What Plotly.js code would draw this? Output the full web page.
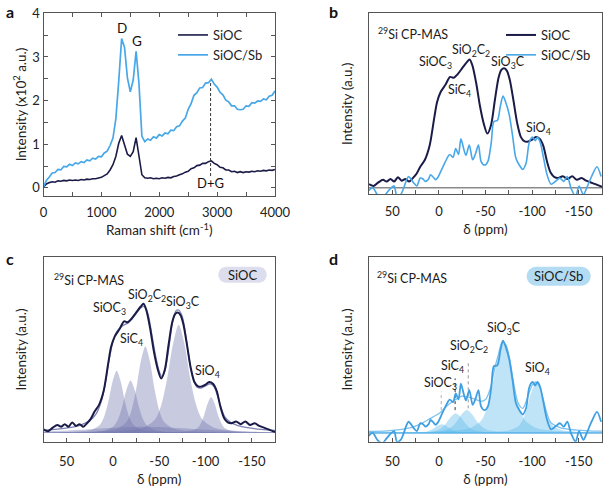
<!DOCTYPE html>
<html><head><meta charset="utf-8">
<script src="https://cdn.plot.ly/plotly-3.0.1.min.js"></script>
<style>html,body{margin:0;padding:0;background:#fff}#chart{width:604px;height:489px}</style>
</head><body><div id="chart"></div>
<script>
// ---------- Panel a: Raman ----------
const ramanX = [0,50,100,150,200,250,300,350,400,450,500,550,600,650,700,750,800,850,900,950,1000,1050,1100,1150,1200,1250,1300,1350,1400,1450,1500,1550,1600,1650,1700,1750,1800,1850,1900,1950,2000,2050,2100,2150,2200,2250,2300,2350,2400,2450,2500,2550,2600,2650,2700,2750,2800,2850,2900,2950,3000,3050,3100,3150,3200,3250,3300,3350,3400,3450,3500,3550,3600,3650,3700,3750,3800,3850,3900,3950,4000];
const siocRaman = [0.02,0.09,0.12,0.14,0.13,0.16,0.15,0.17,0.16,0.18,0.17,0.18,0.17,0.19,0.18,0.20,0.19,0.21,0.21,0.23,0.24,0.28,0.32,0.41,0.53,0.72,1.02,1.20,0.98,0.77,0.72,0.83,1.15,0.72,0.30,0.23,0.22,0.23,0.21,0.22,0.21,0.23,0.22,0.24,0.23,0.26,0.27,0.30,0.32,0.36,0.38,0.44,0.46,0.51,0.52,0.56,0.56,0.60,0.62,0.56,0.53,0.47,0.46,0.41,0.41,0.37,0.38,0.35,0.37,0.35,0.37,0.36,0.38,0.37,0.39,0.38,0.40,0.39,0.41,0.40,0.42];
const siocSbRaman = [0.02,0.17,0.25,0.34,0.35,0.42,0.41,0.49,0.48,0.54,0.51,0.57,0.55,0.60,0.58,0.64,0.62,0.68,0.66,0.72,0.71,0.80,0.84,0.97,1.14,1.58,2.45,3.42,3.22,2.52,2.20,2.47,3.13,2.38,1.18,1.06,1.12,1.09,1.17,1.14,1.22,1.19,1.26,1.24,1.32,1.31,1.40,1.42,1.53,1.60,1.80,1.93,2.12,2.18,2.29,2.30,2.40,2.41,2.49,2.38,2.31,2.19,2.13,2.01,1.97,1.88,1.88,1.80,1.79,1.80,1.88,1.87,1.95,1.94,1.99,1.98,2.04,2.02,2.10,2.12,2.22];
const dgShift = [2887, 2887];
const dgGuide = [0.27, 2.45];
const ramanTicks = [0,1000,2000,3000,4000];

// ---------- 29Si CP-MAS spectra (panels b, c, d) ----------
const siocPpm = [75,70,65,60,56,52,48,44,40,36,32,28,24,20,15,10,5,2,-2,-7,-12,-16,-20,-25,-30,-33,-36,-40,-44,-48,-52,-56,-60,-64,-67,-70,-73,-76,-80,-84,-88,-92,-96,-100,-104,-108,-112,-116,-120,-124,-128,-133,-138,-143,-148,-153,-158,-163,-168,-175];
const siocInt = [0.02,0.01,0.03,0.045,0.035,0.05,0.035,0.06,0.04,0.05,0.035,0.055,0.08,0.12,0.16,0.24,0.40,0.49,0.55,0.59,0.635,0.63,0.65,0.685,0.72,0.735,0.70,0.60,0.47,0.37,0.31,0.36,0.50,0.63,0.675,0.685,0.67,0.62,0.50,0.37,0.29,0.265,0.265,0.275,0.29,0.28,0.24,0.15,0.085,0.06,0.055,0.065,0.05,0.065,0.045,0.055,0.04,0.03,0.02,0.005];
const sbPpm = [76,71,66,61,56,51,48,45,41,38,35,32.6,30,27,23.6,20,17,14.5,11,9,6,3.6,1,-2,-7,-11.6,-15.2,-18,-21,-23.6,-26.5,-29,-32.6,-36.2,-39,-42.4,-45.3,-49,-52.5,-56.2,-59,-62.7,-66,-68.8,-71.7,-75.4,-79,-82.6,-86.2,-90,-93.5,-97,-100.4,-103.3,-105.8,-108.7,-112.3,-116,-120.3,-125,-129.7,-134,-137.7,-142,-146.7,-150.4,-155,-158.7,-163.8,-169.6,-174];
const sbInt = [-0.02,0.0,-0.04,-0.06,-0.03,0.0,0.01,-0.05,-0.04,-0.005,0.04,0.064,0.05,0.027,0.01,0.055,0.05,0.036,0.05,0.074,0.06,0.046,0.06,0.093,0.15,0.19,0.175,0.225,0.19,0.28,0.225,0.185,0.244,0.16,0.19,0.244,0.15,0.13,0.15,0.26,0.38,0.385,0.47,0.525,0.49,0.42,0.30,0.17,0.13,0.105,0.14,0.26,0.29,0.27,0.29,0.26,0.17,0.075,0.02,0.036,0.055,0.036,0.064,-0.006,-0.05,0.01,-0.04,0.0,0.064,0.12,0.064];
const ppmTicks = [50,0,-50,-100,-150];
const ppmTickText = ['50','0','-50','-100','-150'];

// ---------- Panel c: SiOC deconvolution ----------
const cPeak1X = [-184,-94,-58,-40,-31,-22,-17.5,-13,-8.5,-4,0.5,5,9.5,14,23,32,50,86,176];
const cPeak1Y = [0.0004,0.0018,0.0048,0.0103,0.018,0.0464,0.0917,0.177,0.290,0.354,0.290,0.177,0.0917,0.0464,0.018,0.0103,0.0048,0.0018,0.0004];
const cPeak2X = [-199,-109,-73,-55,-46,-37,-32.5,-28,-23.5,-19,-14.5,-10,-5.5,-1,8,17,35,71,161];
const cPeak2Y = [0.0004,0.0015,0.004,0.0086,0.0152,0.039,0.0772,0.149,0.244,0.298,0.244,0.149,0.0772,0.039,0.0152,0.0086,0.004,0.0015,0.0004];
const cPeak3X = [-235,-135,-95,-75,-65,-55,-50,-45,-40,-35,-30,-25,-20,-15,-5,5,25,65,165];
const cPeak3Y = [0.0006,0.0025,0.0067,0.0143,0.0252,0.0647,0.128,0.247,0.405,0.494,0.405,0.247,0.128,0.0647,0.0252,0.0143,0.0067,0.0025,0.0006];
const cPeak4X = [-321,-196,-146,-121,-108.5,-96,-89.8,-83.5,-77.3,-71,-64.8,-58.5,-52.3,-46,-33.5,-21,4,54,179];
const cPeak4Y = [0.0007,0.0031,0.0083,0.0179,0.0314,0.0807,0.16,0.308,0.505,0.616,0.505,0.308,0.16,0.0807,0.0314,0.0179,0.0083,0.0031,0.0007];
const cPeak5X = [-256,-181,-151,-136,-128.5,-121,-117.3,-113.5,-109.8,-106,-102.3,-98.5,-94.8,-91,-83.5,-76,-61,-31,44];
const cPeak5Y = [0.0002,0.001,0.0028,0.0059,0.0104,0.0267,0.0528,0.102,0.167,0.204,0.167,0.102,0.0528,0.0267,0.0104,0.0059,0.0028,0.001,0.0002];
const cBroadX = [-175,-140,-110,-80,-60,-33,-6,14,44,75];
const cBroadY = [0.003,0.008,0.015,0.025,0.031,0.035,0.031,0.025,0.015,0.008];
const cFitX = [75,60,45,35,25,18,12,8,4,0,-4,-8,-12,-16,-20,-25,-30,-34,-38,-42,-46,-50,-53,-56,-60,-64,-68,-71,-75,-79,-83,-87,-91,-95,-100,-105,-109,-113,-117,-121,-127,-135,-145,-160,-175];
const cFitY = [0.015,0.022,0.032,0.045,0.07,0.11,0.19,0.29,0.42,0.52,0.575,0.60,0.615,0.625,0.645,0.68,0.712,0.72,0.675,0.56,0.44,0.35,0.32,0.35,0.47,0.62,0.695,0.70,0.66,0.54,0.40,0.30,0.26,0.255,0.268,0.28,0.265,0.21,0.14,0.09,0.06,0.042,0.03,0.02,0.014];

// ---------- Panel d: SiOC/Sb deconvolution ----------
const dPeak1X = [-183,-93,-57,-39,-30,-21,-16.5,-12,-7.5,-3,1.5,6,10.5,15,24,33,51,87,177];
const dPeak1Y = [0.0001,0.0003,0.0007,0.0015,0.0026,0.0066,0.013,0.025,0.041,0.05,0.041,0.025,0.013,0.0066,0.0026,0.0015,0.0007,0.0003,0.0001];
const dPeak2X = [-218,-118,-78,-58,-48,-38,-33,-28,-23,-18,-13,-8,-3,2,12,22,42,82,182];
const dPeak2Y = [0.0001,0.0006,0.0015,0.0032,0.0057,0.0147,0.029,0.056,0.0918,0.112,0.0918,0.056,0.029,0.0147,0.0057,0.0032,0.0015,0.0006,0.0001];
const dPeak3X = [-250,-140,-96,-74,-63,-52,-46.5,-41,-35.5,-30,-24.5,-19,-13.5,-8,3,14,36,80,190];
const dPeak3Y = [0.0002,0.0007,0.0018,0.0038,0.0067,0.0172,0.0339,0.0655,0.107,0.131,0.107,0.0655,0.0339,0.0172,0.0067,0.0038,0.0018,0.0007,0.0002];
const dPeak4X = [-309,-189,-141,-117,-105,-93,-87,-81,-75,-69,-63,-57,-51,-45,-33,-21,3,51,171];
const dPeak4Y = [0.0006,0.0026,0.007,0.0149,0.0263,0.0675,0.133,0.258,0.422,0.515,0.422,0.258,0.133,0.0675,0.0263,0.0149,0.007,0.0026,0.0006];
const dPeak5X = [-294,-199,-161,-142,-132.5,-123,-118.3,-113.5,-108.8,-104,-99.3,-94.5,-89.8,-85,-75.5,-66,-47,-9,86];
const dPeak5Y = [0.0003,0.0014,0.0038,0.0083,0.0145,0.0373,0.0738,0.1425,0.234,0.285,0.234,0.1425,0.0738,0.0373,0.0145,0.0083,0.0038,0.0014,0.0003];
const dFitX = [75,55,40,30,20,10,0,-10,-18,-25,-30,-35,-40,-45,-50,-55,-60,-64,-68,-72,-76,-80,-85,-90,-95,-100,-104,-108,-112,-116,-120,-130,-140,-160,-175];
const dFitY = [0.008,0.012,0.02,0.03,0.05,0.08,0.11,0.16,0.19,0.21,0.205,0.20,0.19,0.18,0.19,0.25,0.37,0.45,0.52,0.50,0.42,0.29,0.17,0.14,0.20,0.27,0.29,0.26,0.19,0.11,0.06,0.03,0.02,0.012,0.01];
const dLeaderPpm = [-2.5, -17.4, -31.5];
const dLeaderLow = [0.13, 0.13, 0.14];
const dLeaderHigh = [0.235, 0.31, 0.40];

// ---------- styling ----------
const W = 604, H = 489;
const dx = (l, r) => [l / W, r / W];
const dy = (t, b) => [1 - b / H, 1 - t / H];
const NAVY = '#1b1b48', SKY = '#47a7e8', AXC = '#555';
const cFill = 'rgba(110,115,170,0.38)', dFill = 'rgba(90,185,235,0.39)';

const traces = [];
// a
traces.push({x: ramanX, y: siocRaman, xaxis: 'x', yaxis: 'y', mode: 'lines', name: 'SiOC', line: {color: NAVY, width: 1.6}, legend: 'legend'});
traces.push({x: ramanX, y: siocSbRaman, xaxis: 'x', yaxis: 'y', mode: 'lines', name: 'SiOC/Sb', line: {color: SKY, width: 1.7}, legend: 'legend'});
traces.push({x: dgShift, y: dgGuide, xaxis: 'x', yaxis: 'y', mode: 'lines', showlegend: false, line: {color: '#333', width: 1, dash: '3px,2px'}});
// b
traces.push({x: siocPpm, y: siocInt, xaxis: 'x2', yaxis: 'y2', mode: 'lines', name: 'SiOC', line: {color: NAVY, width: 2, shape: 'spline', smoothing: 0.8}, legend: 'legend2'});
traces.push({x: sbPpm, y: sbInt, xaxis: 'x2', yaxis: 'y2', mode: 'lines', name: 'SiOC/Sb', line: {color: SKY, width: 1.6, shape: 'spline', smoothing: 0.8}, legend: 'legend2'});
// c
[[cBroadX, cBroadY], [cPeak1X, cPeak1Y], [cPeak2X, cPeak2Y], [cPeak3X, cPeak3Y], [cPeak4X, cPeak4Y], [cPeak5X, cPeak5Y]].forEach(([px, py]) => {
  traces.push({x: px, y: py, xaxis: 'x3', yaxis: 'y3', mode: 'lines', fill: 'tozeroy', fillcolor: cFill, line: {width: 0, shape: 'spline', smoothing: 0.8}, showlegend: false, hoverinfo: 'skip'});
});
traces.push({x: cFitX, y: cFitY, xaxis: 'x3', yaxis: 'y3', mode: 'lines', line: {color: '#7e82b4', width: 1.3, shape: 'spline', smoothing: 0.8}, showlegend: false});
traces.push({x: siocPpm, y: siocInt, xaxis: 'x3', yaxis: 'y3', mode: 'lines', line: {color: NAVY, width: 2, shape: 'spline', smoothing: 0.8}, showlegend: false});
// d
[[dPeak1X, dPeak1Y], [dPeak2X, dPeak2Y], [dPeak3X, dPeak3Y], [dPeak4X, dPeak4Y], [dPeak5X, dPeak5Y]].forEach(([px, py]) => {
  traces.push({x: px, y: py, xaxis: 'x4', yaxis: 'y4', mode: 'lines', fill: 'tozeroy', fillcolor: dFill, line: {width: 0, shape: 'spline', smoothing: 0.8}, showlegend: false, hoverinfo: 'skip'});
});
const leaderColors = ['#b0b0b0', '#333333', '#999999'];
dLeaderPpm.forEach((p, i) => {
  traces.push({x: [p, p], y: [dLeaderLow[i], dLeaderHigh[i]], xaxis: 'x4', yaxis: 'y4', mode: 'lines', line: {color: leaderColors[i], width: 1, dash: 'dot'}, showlegend: false});
});
traces.push({x: dFitX, y: dFitY, xaxis: 'x4', yaxis: 'y4', mode: 'lines', line: {color: '#7cc2ee', width: 1.3, shape: 'spline', smoothing: 0.8}, showlegend: false});
traces.push({x: sbPpm, y: sbInt, xaxis: 'x4', yaxis: 'y4', mode: 'lines', line: {color: '#3f9fe2', width: 1.8, shape: 'spline', smoothing: 0.8}, showlegend: false});

const tickFont = {size: 13, color: '#222'};
function ppmAxis(dom, anchor, labelGap, titleGap) {
  return {domain: dom, anchor: anchor, range: [75, -175], tickmode: 'array', tickvals: ppmTicks, ticktext: ppmTickText,
    ticks: 'inside', ticklen: 4, tickcolor: AXC, tickfont: tickFont, ticklabelstandoff: labelGap,
    minor: {tickmode: 'linear', tick0: 0, dtick: 25, ticks: 'inside', ticklen: 4, tickcolor: AXC},
    showline: true, mirror: true, linecolor: AXC, linewidth: 1, showgrid: false, zeroline: false,
    title: {text: 'δ (ppm)', font: {size: 13.5, color: '#222'}, standoff: titleGap}};
}
function intAxis(dom, anchor, rng) {
  return {domain: dom, anchor: anchor, range: rng, showticklabels: false, ticks: '', showline: true, mirror: true,
    linecolor: AXC, linewidth: 1, showgrid: false, zeroline: false,
    title: {text: 'Intensity (a.u.)', font: {size: 13.5, color: '#222'}, standoff: 12}};
}

const lbl = (text, x, y, xr, yr, extra) => Object.assign({text: text, x: x, y: y, xref: xr, yref: yr, showarrow: false, xanchor: 'center', yanchor: 'middle', font: {size: 12.5, color: '#1a1a1a'}}, extra || {});
const letterFont = {size: 16, color: '#111'};
const annotations = [
  lbl('<b>a</b>', 4 / W, 1 - 11.7 / H, 'paper', 'paper', {xanchor: 'left', font: letterFont}),
  lbl('<b>b</b>', 327 / W, 1 - 11.7 / H, 'paper', 'paper', {xanchor: 'left', font: letterFont}),
  lbl('<b>c</b>', 4 / W, 1 - 258.3 / H, 'paper', 'paper', {xanchor: 'left', font: letterFont}),
  lbl('<b>d</b>', 327 / W, 1 - 258.3 / H, 'paper', 'paper', {xanchor: 'left', font: letterFont}),
  // a
  lbl('D', 1351, 3.67, 'x', 'y', {font: {size: 13.5, color: '#111'}}),
  lbl('G', 1612, 3.36, 'x', 'y', {font: {size: 13.5, color: '#111'}}),
  lbl('D+G', 2887, 0.11, 'x', 'y', {font: {size: 13, color: '#111'}}),
  // b
  lbl('<sup>29</sup>Si CP-MAS', 68, 0.885, 'x2', 'y2', {xanchor: 'left'}),
  lbl('SiOC<sub>3</sub>', 3.6, 0.72, 'x2', 'y2'),
  lbl('SiC<sub>4</sub>', -21.7, 0.557, 'x2', 'y2'),
  lbl('SiO<sub>2</sub>C<sub>2</sub>', -34.5, 0.784, 'x2', 'y2'),
  lbl('SiO<sub>3</sub>C', -74.3, 0.72, 'x2', 'y2'),
  lbl('SiO<sub>4</sub>', -106.8, 0.34, 'x2', 'y2'),
  // c
  lbl('<sup>29</sup>Si CP-MAS', 66, 0.875, 'x3', 'y3', {xanchor: 'left'}),
  lbl('SiOC<sub>3</sub>', 3.6, 0.71, 'x3', 'y3'),
  lbl('SiC<sub>4</sub>', -20.1, 0.532, 'x3', 'y3'),
  lbl('SiO<sub>2</sub>C<sub>2</sub>', -36.5, 0.785, 'x3', 'y3'),
  lbl('SiO<sub>3</sub>C', -75.9, 0.742, 'x3', 'y3'),
  lbl('SiO<sub>4</sub>', -102.2, 0.348, 'x3', 'y3'),
  lbl('SiOC', 242.5 / W, 1 - 274.7 / H, 'paper', 'paper', {font: {size: 13, color: '#1a1a1a'}}),
  // d
  lbl('<sup>29</sup>Si CP-MAS', 68.8, 0.885, 'x4', 'y4', {xanchor: 'left'}),
  lbl('SiOC<sub>3</sub>', -1.8, 0.28, 'x4', 'y4'),
  lbl('SiC<sub>4</sub>', -14.5, 0.38, 'x4', 'y4'),
  lbl('SiO<sub>2</sub>C<sub>2</sub>', -32.6, 0.49, 'x4', 'y4'),
  lbl('SiO<sub>3</sub>C', -69.6, 0.595, 'x4', 'y4'),
  lbl('SiO<sub>4</sub>', -105.8, 0.368, 'x4', 'y4'),
  lbl('SiOC/Sb', 558.7 / W, 1 - 276 / H, 'paper', 'paper', {font: {size: 13, color: '#1a1a1a'}})
];

function pill(l, r, t, b, color) {
  const x0 = l / W, x1 = r / W, y1 = 1 - t / H, y0 = 1 - b / H, ym = (y0 + y1) / 2;
  const rx = ((b - t) / 2) / W;
  return {type: 'path', xref: 'paper', yref: 'paper', fillcolor: color, line: {width: 0}, layer: 'above',
    path: `M${x0 + rx},${y1} L${x1 - rx},${y1} C${x1 - rx * 0.45},${y1} ${x1},${ym + (y1 - ym) * 0.55} ${x1},${ym} C${x1},${ym - (ym - y0) * 0.55} ${x1 - rx * 0.45},${y0} ${x1 - rx},${y0} L${x0 + rx},${y0} C${x0 + rx * 0.45},${y0} ${x0},${ym - (ym - y0) * 0.55} ${x0},${ym} C${x0},${ym + (y1 - ym) * 0.55} ${x0 + rx * 0.45},${y1} ${x0 + rx},${y1} Z`};
}

const layout = {
  width: W, height: H, margin: {l: 0, r: 0, t: 0, b: 0}, paper_bgcolor: '#fff', plot_bgcolor: 'rgba(0,0,0,0)',
  font: {family: 'Lato, "Open Sans", sans-serif', size: 13, color: '#222'},
  xaxis: {domain: dx(43.5, 275), anchor: 'y', range: [0, 4000], tickmode: 'array', tickvals: ramanTicks,
    ticks: 'inside', ticklen: 4, tickcolor: AXC, tickfont: tickFont, ticklabelstandoff: 5,
    minor: {tickmode: 'linear', tick0: 0, dtick: 500, ticks: 'inside', ticklen: 4, tickcolor: AXC},
    showline: true, mirror: 'allticks', linecolor: AXC, linewidth: 1, showgrid: false, zeroline: false,
    title: {text: 'Raman shift (cm<sup>-1</sup>)', font: {size: 13.5, color: '#222'}, standoff: 6}},
  yaxis: {domain: dy(13.3, 195.7), anchor: 'x', range: [-0.18, 4], dtick: 1, tick0: 0,
    ticks: 'inside', ticklen: 4, tickcolor: AXC, tickfont: tickFont,
    minor: {dtick: 0.5, ticks: 'inside', ticklen: 4, tickcolor: AXC},
    showline: true, mirror: 'allticks', linecolor: AXC, linewidth: 1, showgrid: false, zeroline: false,
    title: {text: 'Intensity (x10<sup>2</sup> a.u.)', font: {size: 13.5, color: '#222'}, standoff: 2}},
  xaxis2: ppmAxis(dx(369, 602), 'y2', 5, 6),
  yaxis2: intAxis(dy(13.3, 194.3), 'x2', [-0.038, 1]),
  xaxis3: ppmAxis(dx(43.5, 275), 'y3', 8, 6),
  yaxis3: intAxis(dy(257.3, 441.7), 'x3', [-0.05, 1]),
  xaxis4: ppmAxis(dx(369, 602), 'y4', 8, 6),
  yaxis4: intAxis(dy(257.3, 441.7), 'x4', [-0.05, 1]),
  legend: {x: 173 / W, y: 1 - 20 / H, xanchor: 'left', yanchor: 'top', bgcolor: 'rgba(0,0,0,0)', font: {size: 13, color: '#222'}, tracegroupgap: 0},
  legend2: {x: 501 / W, y: 1 - 20 / H, xanchor: 'left', yanchor: 'top', bgcolor: 'rgba(0,0,0,0)', font: {size: 13, color: '#222'}, tracegroupgap: 0},
  shapes: [
    {type: 'line', xref: 'x2 domain', yref: 'y2', x0: 0, x1: 1, y0: 0, y1: 0, line: {color: '#8a8a8a', width: 1.5}, layer: 'below'},
    {type: 'line', xref: 'x4 domain', yref: 'y4', x0: 0, x1: 1, y0: 0, y1: 0, line: {color: '#62b2ea', width: 1.5}, layer: 'below'},
    pill(218.3, 266.7, 266.7, 282.7, '#dcdeee'),
    pill(526.7, 590.7, 266.7, 285.7, '#b3dcf3')
  ],
  annotations: annotations,
  showlegend: true
};

Plotly.newPlot('chart', traces, layout, {displayModeBar: false});
</script>
</body></html>
